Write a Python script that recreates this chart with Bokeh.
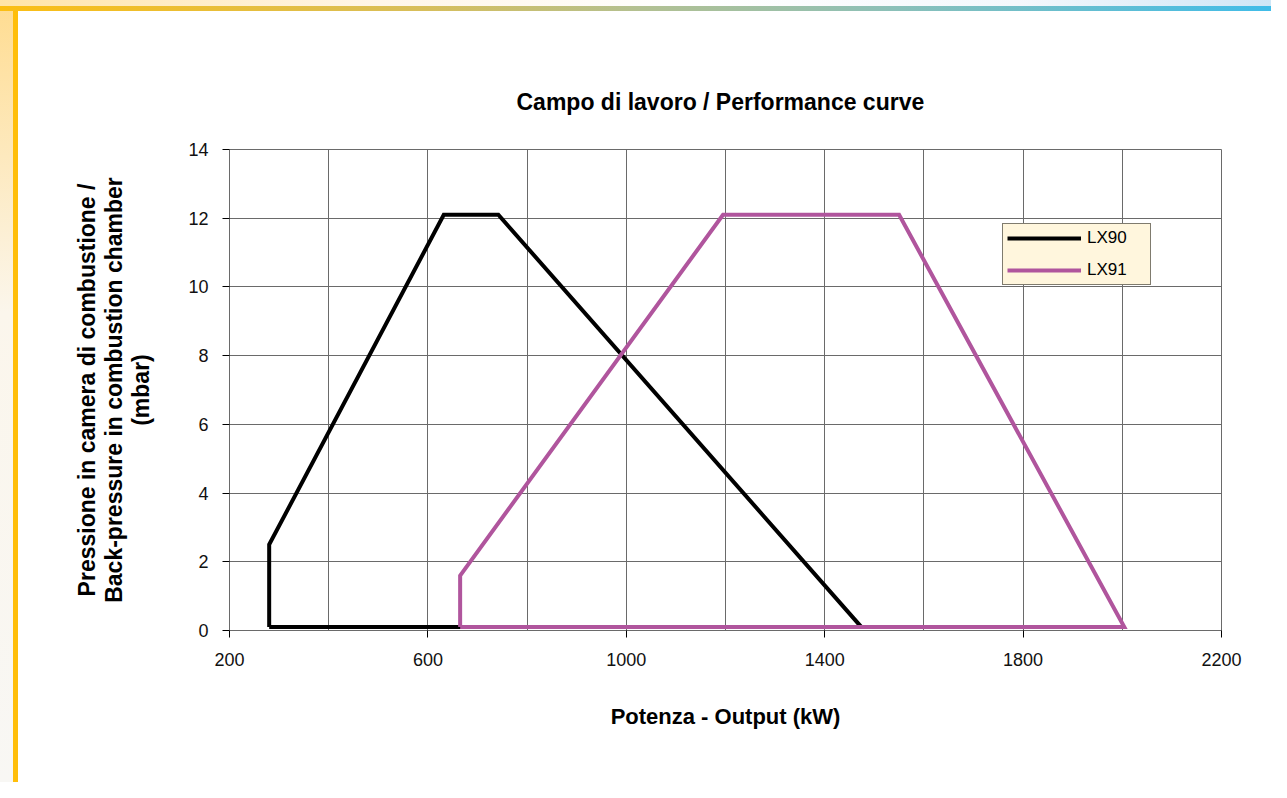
from bokeh.plotting import figure
from bokeh.models import Range1d, FixedTicker, SingleIntervalTicker, Legend, LegendItem
from bokeh.embed import file_html
from bokeh.resources import INLINE

# ---- data ----
lx90_x = [280, 280, 632, 742, 1474, 280]
lx90_y = [0.1, 2.5, 12.1, 12.1, 0.1, 0.1]
lx91_x = [665, 665, 1195, 1550, 2004, 665]
lx91_y = [0.1, 1.6, 12.1, 12.1, 0.1, 0.1]
x_ticks = [200, 600, 1000, 1400, 1800, 2200]
y_ticks = [0, 2, 4, 6, 8, 10, 12, 14]
series_names = ["LX90", "LX91"]

FONT = "Liberation Sans"
W, H = 1271, 782

page_bg = ("linear-gradient(to right, #FBBE14 0%, #D8BE5A 33%, #B4C090 50%, #8CC0B8 70%, #40BCE8 100%) 0px 6px / 100% 5px no-repeat, "
           "linear-gradient(#FFBE0A, #FFBE0A) 13px 6px / 5px 100% no-repeat, "
           "linear-gradient(to right, #FFE4A8 0%, #FFF6E8 30%, #FFFFFF 55%, #F4F8FC 80%, #CFE6F6 100%) 0px 0px / 100% 6px no-repeat, "
           "linear-gradient(#FFDC90, #FBF6EC 40%, #F8F7F4 100%) 0px 0px / 13px 100% no-repeat, "
           "white")

p = figure(width=W, height=H, x_range=Range1d(200, 2200), y_range=Range1d(0, 14),
           output_backend="svg", toolbar_location=None,
           min_border_left=229, min_border_right=50, min_border_top=149, min_border_bottom=152,
           title="Campo di lavoro / Performance curve",
           styles={"background": page_bg})
p.background_fill_color = "white"
p.border_fill_alpha = 0
p.outline_line_color = "#6a6a6a"
p.outline_line_width = 1

p.title.align = "left"
p.title.text_font = FONT
p.title.text_font_style = "bold"
p.title.text_font_size = "23px"
p.title.text_color = "black"
p.title.standoff = 69
p.title.offset = 287

# grid
p.xgrid.ticker = SingleIntervalTicker(interval=200)
p.ygrid.ticker = SingleIntervalTicker(interval=2)
for g in (p.xgrid, p.ygrid):
    g.grid_line_color = "#6a6a6a"
    g.grid_line_width = 1

# axes
xa = p.xaxis[0]
xa.ticker = FixedTicker(ticks=x_ticks)
xa.axis_label = "Potenza - Output (kW)"
ya = p.yaxis[0]
ya.ticker = FixedTicker(ticks=y_ticks)
ya.axis_label = "Pressione in camera di combustione /\nBack-pressure in combustion chamber\n(mbar)"
for a in (xa, ya):
    a.axis_line_color = "#6a6a6a"
    a.axis_line_width = 1
    a.major_tick_line_color = "black"
    a.major_tick_out = 7
    a.major_tick_in = 0
    a.minor_tick_line_color = None
    a.major_label_text_font = FONT
    a.major_label_text_font_size = "18px"
    a.major_label_text_color = "#111111"
    a.axis_label_text_font = FONT
    a.axis_label_text_font_style = "bold"
    a.axis_label_text_color = "black"
xa.axis_label_text_font_size = "22px"
ya.axis_label_text_font_size = "23px"
ya.axis_label_text_line_height = 1.05
xa.major_label_standoff = 15
xa.axis_label_standoff = 35
ya.major_label_standoff = 14
ya.axis_label_standoff = 31

# series
r1 = p.line(lx90_x, lx90_y, line_color="black", line_width=4, line_join="miter")
r2 = p.line(lx91_x, lx91_y, line_color="#B0559D", line_width=4, line_join="miter")

legend = Legend(items=[LegendItem(label=series_names[0], renderers=[r1]),
                       LegendItem(label=series_names[1], renderers=[r2])],
                location=(773, 345))
legend.background_fill_color = "#FFF6DD"
legend.background_fill_alpha = 1
legend.border_line_color = "black"
legend.border_line_width = 1
legend.padding = 4
legend.margin = 0
legend.spacing = 12
legend.glyph_width = 74
legend.glyph_height = 20
legend.label_height = 20
legend.label_width = 59
legend.label_standoff = 6
legend.label_text_font = FONT
legend.label_text_font_size = "17px"
legend.label_text_color = "black"
p.add_layout(legend, "center")

open("out.html", "w").write(file_html(p, INLINE))
